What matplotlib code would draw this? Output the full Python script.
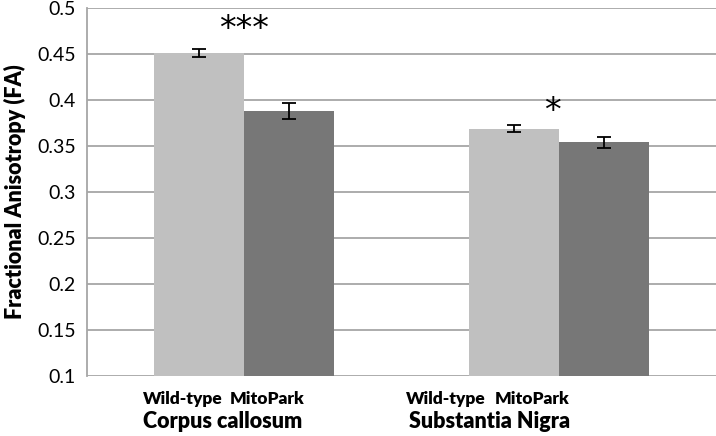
import numpy as np
import matplotlib
matplotlib.use("Agg")
import matplotlib.pyplot as plt
from matplotlib.transforms import blended_transform_factory

# values
regions = ["Corpus callosum", "Substantia Nigra"]
genotypes = ["Wild-type", "MitoPark"]
fa_wildtype = [0.451, 0.369]
fa_mitopark = [0.388, 0.354]
err_wildtype = [0.004, 0.004]
err_mitopark = [0.009, 0.006]
stars = ["***", "*"]

plt.rcParams["font.family"] = ["Lato", "DejaVu Sans"]

fig = plt.figure(figsize=(7.16, 4.36), dpi=100)
ax = fig.add_axes([87 / 716, 60 / 436, 629 / 716, 368 / 436])

x = np.arange(len(regions))
w = 0.286
colors = ["#c0c0c0", "#777777"]

ax.bar(x - w / 2, fa_wildtype, w, bottom=0, color=colors[0], zorder=2)
ax.bar(x + w / 2, fa_mitopark, w, bottom=0, color=colors[1], zorder=2)
ax.errorbar(x - w / 2, fa_wildtype, yerr=err_wildtype, fmt="none", ecolor="black",
            elinewidth=1.3, capsize=5, capthick=1.3, zorder=3)
ax.errorbar(x + w / 2, fa_mitopark, yerr=err_mitopark, fmt="none", ecolor="black",
            elinewidth=1.3, capsize=5, capthick=1.3, zorder=3)

# significance stars
ax.text(x[0], 0.477, stars[0], ha="center", va="center", fontsize=24, family="DejaVu Sans")
ax.text(x[1] - 0.02, 0.388, stars[1], ha="center", va="center", fontsize=24, family="DejaVu Sans")

ax.set_xlim(-0.5, 1.5)
ax.set_ylim(0.1, 0.5)
ax.set_yticks(np.arange(0.1, 0.501, 0.05))
ax.set_yticklabels([f"{v:g}" for v in np.round(np.arange(0.1, 0.501, 0.05), 2)])
ax.tick_params(axis="y", length=0, labelsize=14, pad=8)
ax.set_xticks([])
ax.yaxis.grid(True, color="#a6a6a6", linewidth=1.3, zorder=0)
ax.set_axisbelow(True)
for side in ["top", "right", "bottom"]:
    ax.spines[side].set_visible(False)
ax.spines["left"].set_color("#a6a6a6")
ax.spines["left"].set_linewidth(1.3)

ax.set_ylabel("Fractional Anisotropy (FA)", fontsize=15.5, fontweight="heavy", labelpad=8)

# category labels under the bars (offsets as in the original layout)
trans = blended_transform_factory(ax.transData, fig.transFigure)
geno_offsets = [[-0.197, 0.073], [-0.359, -0.086]]
region_offsets = [-0.07, -0.219]
for i, reg in enumerate(regions):
    for j, g in enumerate(genotypes):
        ax.text(x[i] + geno_offsets[i][j], 1 - 399 / 436, g, transform=trans,
                ha="center", va="center", fontsize=12.5, fontweight="heavy")
    ax.text(x[i] + region_offsets[i], 1 - 421 / 436, reg, transform=trans,
            ha="center", va="center", fontsize=15.5, fontweight="heavy")

fig.savefig("out.png", dpi=100)
